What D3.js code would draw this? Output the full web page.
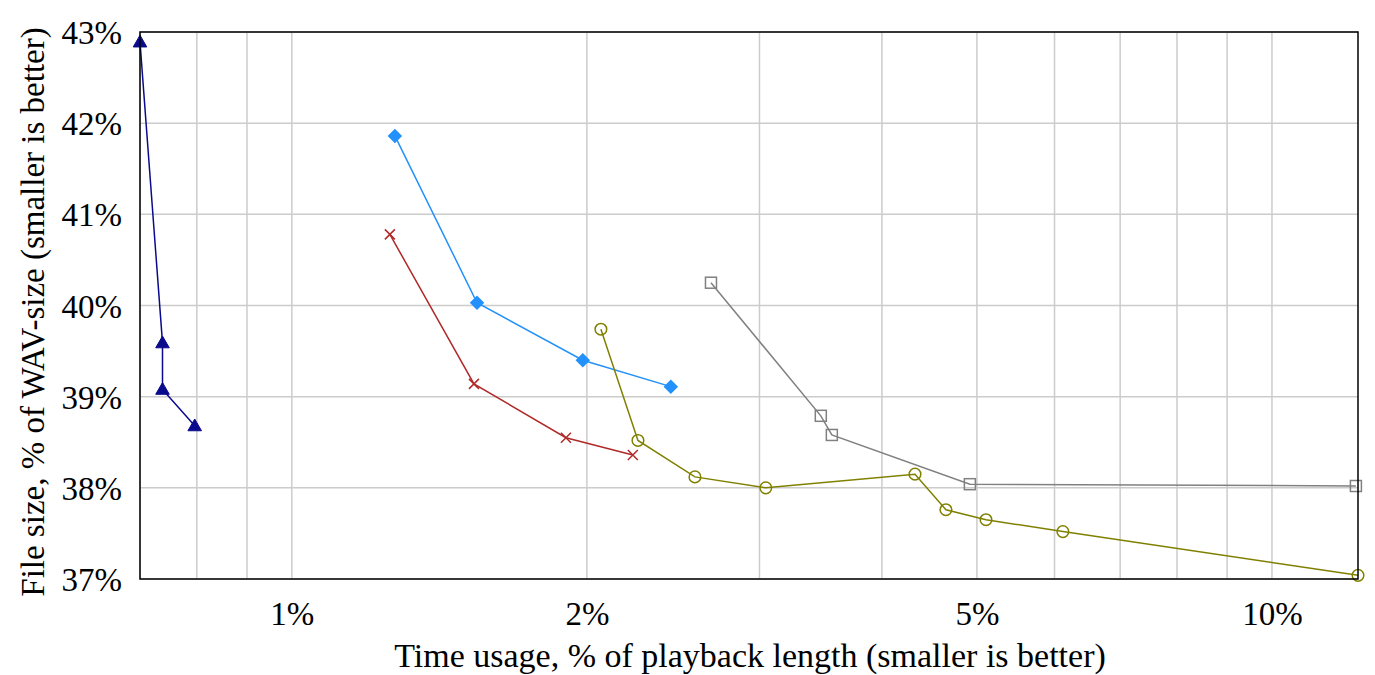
<!DOCTYPE html>
<html><head><meta charset="utf-8">
<script src="https://cdn.jsdelivr.net/npm/d3@7"></script>
<style>body{margin:0;background:#fff}svg{display:block}svg text{font-family:"Liberation Serif",serif !important;fill:#000}</style>
</head><body><svg id="c" width="1375" height="675"></svg>
<script>
// data: [time usage %, file size %]
const navyTime = [0.700, 0.738, 0.738, 0.796];
const navySize = [42.89, 39.59, 39.08, 38.68];
const blueTime = [1.274, 1.545, 1.981, 2.436];
const blueSize = [41.86, 40.03, 39.40, 39.11];
const redTime = [1.259, 1.534, 1.904, 2.228];
const redSize = [40.78, 39.14, 38.55, 38.36];
const oliveTime = [2.067, 2.255, 2.578, 3.045, 4.323, 4.649, 5.108, 6.119, 12.24];
const oliveSize = [39.74, 38.52, 38.12, 38.00, 38.15, 37.76, 37.65, 37.52, 37.04];
const grayTime = [2.677, 3.465, 3.556, 4.918, 12.18];
const graySize = [40.25, 38.79, 38.58, 38.04, 38.02];
const xTickValues = [1, 2, 5, 10];
const xGridValues = [0.7, 0.8, 0.9, 1, 2, 3, 4, 5, 6, 7, 8, 9, 10];
const yTickValues = [37, 38, 39, 40, 41, 42, 43];
const xTitle = "Time usage, % of playback length (smaller is better)";
const yTitle = "File size, % of WAV-size (smaller is better)";

const series = [
  {t: navyTime, s: navySize, color: "#0a0a8c", marker: "triangle"},
  {t: redTime, s: redSize, color: "#b02a2a", marker: "cross"},
  {t: blueTime, s: blueSize, color: "#2391fb", marker: "diamond"},
  {t: grayTime, s: graySize, color: "#808080", marker: "square"},
  {t: oliveTime, s: oliveSize, color: "#808000", marker: "circle"}
];

const L = 140, R = 1358, T = 32, B = 579;
const FONT = "'Liberation Serif', serif";
const FS = 33;
const allT = series.flatMap(d => d.t);
const x = d3.scaleLog().domain([d3.min(allT), d3.max(allT)]).range([L, R]);
const y = d3.scaleLinear().domain([37, 43]).range([B, T]);

const svg = d3.select("#c");
const grid = svg.append("g");
grid.selectAll("line.vx").data(xGridValues).join("line")
  .attr("x1", d => x(d)).attr("x2", d => x(d)).attr("y1", T).attr("y2", B)
  .attr("stroke", "#cccccc").attr("stroke-width", 1.5);
grid.selectAll("line.hy").data(yTickValues).join("line")
  .attr("x1", L).attr("x2", R).attr("y1", d => y(d)).attr("y2", d => y(d))
  .attr("stroke", "#cccccc").attr("stroke-width", 1.5);

// axes (labels only)
const xAxis = d3.axisBottom(x).tickValues(xTickValues).tickSize(0).tickPadding(0).tickFormat(d => d + "%");
const gx = svg.append("g").attr("transform", `translate(0,${B})`).call(xAxis).attr("font-family", FONT).attr("font-size", FS);
gx.select(".domain").remove();
gx.selectAll("text").attr("dy", null).attr("y", 46).attr("fill", "#000");

const yAxis = d3.axisLeft(y).tickValues(yTickValues).tickSize(0).tickPadding(0).tickFormat(d => d + "%");
const gy = svg.append("g").attr("transform", `translate(${L},0)`).call(yAxis).attr("font-family", FONT).attr("font-size", FS);
gy.select(".domain").remove();
gy.selectAll("text").attr("x", -18).attr("dy", "0.35em").attr("fill", "#000");

// series
const line = d3.line();
const sym = {
  triangle: d3.symbol().type(d3.symbolTriangle).size(80),
  diamond: d3.symbol().type(d3.symbolSquare).size(105)
};
series.forEach(sr => {
  const pts = sr.t.map((t, i) => [x(t), y(sr.s[i])]);
  const g = svg.append("g");
  g.append("path").attr("d", line(pts)).attr("fill", "none").attr("stroke", sr.color).attr("stroke-width", 1.5);
  pts.forEach(p => {
    if (sr.marker === "triangle") {
      g.append("path").attr("d", sym.triangle()).attr("transform", `translate(${p[0]},${p[1]+1})`).attr("fill", sr.color).attr("stroke", sr.color);
    } else if (sr.marker === "diamond") {
      g.append("path").attr("d", sym.diamond()).attr("transform", `translate(${p[0]},${p[1]}) rotate(45)`).attr("fill", sr.color);
    } else if (sr.marker === "square") {
      g.append("rect").attr("x", p[0]-5.5).attr("y", p[1]-5.5).attr("width", 11).attr("height", 11).attr("fill", "none").attr("stroke", sr.color).attr("stroke-width", 1.5);
    } else if (sr.marker === "circle") {
      g.append("circle").attr("cx", p[0]).attr("cy", p[1]).attr("r", 5.8).attr("fill", "none").attr("stroke", sr.color).attr("stroke-width", 1.5);
    } else if (sr.marker === "cross") {
      const s = 5;
      g.append("path").attr("d", `M${p[0]-s},${p[1]-s}L${p[0]+s},${p[1]+s}M${p[0]-s},${p[1]+s}L${p[0]+s},${p[1]-s}`).attr("stroke", sr.color).attr("stroke-width", 1.5);
    }
  });
});

// frame
svg.append("rect").attr("x", L).attr("y", T).attr("width", R-L).attr("height", B-T).attr("fill", "none").attr("stroke", "#000").attr("stroke-width", 1.5);

// titles
svg.append("text").attr("x", 750).attr("y", 667).attr("text-anchor", "middle").attr("font-family", FONT).attr("font-size", 34).text(xTitle);
svg.append("text").attr("transform", `translate(44,312) rotate(-90)`).attr("text-anchor", "middle").attr("font-family", FONT).attr("font-size", FS).text(yTitle);
</script></body></html>
